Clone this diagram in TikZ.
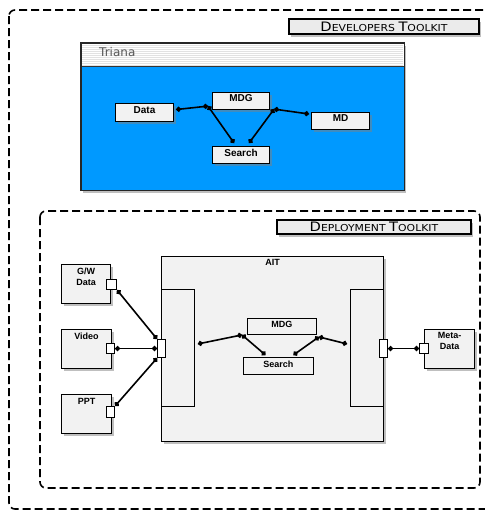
\documentclass[tikz,border=0pt]{standalone}
\usepackage{fontspec}
\setmainfont{Liberation Sans}
\newfontfamily\capfont{DejaVu Sans}
\newfontfamily\winfont{DejaVu Sans}
\usetikzlibrary{arrows.meta,shadows}
\definecolor{boxgray}{HTML}{F2F2F2}
\definecolor{taggray}{HTML}{EBEBEB}
\definecolor{trianablue}{RGB}{0,153,255}
\definecolor{stripegray}{HTML}{E2E2E2}
\newcommand\smcaps[2]{{\fontsize{13}{13}\selectfont #1}{\fontsize{9.6}{9.6}\selectfont #2}}
\newcommand\twolines[2]{\begin{tabular}[t]{@{}c@{}}#1\\#2\end{tabular}}
\begin{document}
\begin{tikzpicture}[x=1pt,y=-1pt,
    shadowed/.style={drop shadow={shadow xshift=2pt,shadow yshift=-2.5pt,opacity=0.5}},
    toolkit/.style={dash pattern=on 8pt off 4pt,line width=1.6pt,rounded corners=6pt},
    tag/.style={draw,line width=2pt,fill=taggray,shadowed,inner sep=0pt,minimum height=15pt,
      font=\capfont,anchor=north west},
    blk/.style={draw,line width=1.1pt,fill=boxgray,inner sep=0pt,anchor=north west,
      font=\bfseries\fontsize{10}{12}\selectfont},
    sblk/.style={blk,font=\bfseries\fontsize{9}{11}\selectfont},
    panel/.style={draw,fill=boxgray,inner sep=0pt,anchor=north west,line width=0.9pt},
    port/.style={draw,fill=white,inner sep=0pt,anchor=north west,line width=1.1pt},
    dotline/.style={line width=1.6pt,{Circle[length=5pt]}-{Circle[length=5pt]}}]
  \useasboundingbox (0,0) rectangle (485,512);

  \draw[toolkit] (9,10) rectangle (492,509);
  \draw[toolkit] (40,211) rectangle (480,488);
  \node[tag,minimum width=190pt] (devtag) at (288,18)
    {\scalebox{1.13}[1]{\smcaps{D}{EVELOPERS} \smcaps{T}{OOLKIT}}};
  \node[tag,minimum width=194pt,minimum height=14pt] (deptag) at (276,219)
    {\scalebox{1.13}[1]{\smcaps{D}{EPLOYMENT} \smcaps{T}{OOLKIT}}};

  \node[draw=black!80,fill=trianablue,shadowed,inner sep=0pt,anchor=north west,
    minimum width=323pt,minimum height=147pt] (triana) at (81,43) {};
  \fill[white] (81,43) rectangle (404,66);
  \foreach \yy in {45,47,...,65}
    \draw[stripegray,line width=0.6pt] (82,\yy) -- (403,\yy);
  \draw[black!80,line width=1pt] (81,66) -- (404,66);
  \draw[black!85,line width=1.2pt] (triana.north west) rectangle (triana.south east);
  \node[anchor=base west,inner sep=0pt,text=black!65,font=\winfont\fontsize{12}{12}\selectfont]
    (title) at (99,56) {Triana};

  \node[blk,shadowed,minimum width=58pt,text height=10pt,text depth=8pt] (data) at (115,103) {Data};
  \node[blk,shadowed,minimum width=57pt,text height=9pt,text depth=8pt] (mdg) at (212,92) {MDG};
  \node[blk,shadowed,minimum width=58pt,text height=9pt,text depth=8pt] (md) at (311,112) {MD};
  \node[blk,shadowed,minimum width=57pt,text height=9.5pt,text depth=7.5pt] (search) at (212,146) {Search};

  \node[sblk,shadowed,line width=1.3pt,minimum width=222pt,text height=9pt,text depth=176pt] (ait)
    at (161,256) {AIT};
  \node[panel,minimum width=33pt,minimum height=117pt] (lpanel) at (161,289) {};
  \node[panel,minimum width=33pt,minimum height=117pt] (rpanel) at (350,289) {};
  \node[sblk,line width=0.9pt,minimum width=69pt,text height=9pt,text depth=7pt] (mdgb) at (247,318) {MDG};
  \node[sblk,line width=0.9pt,minimum width=70pt,text height=10pt,text depth=7pt] (searchb) at (243,357) {Search};

  \node[sblk,shadowed,minimum width=49pt,text height=10pt,text depth=29pt] (gw) at (61,264)
    {\twolines{G/W}{Data}};
  \node[sblk,shadowed,minimum width=50pt,text height=10pt,text depth=29pt] (video) at (61,329) {Video};
  \node[sblk,shadowed,minimum width=50pt,text height=10pt,text depth=29pt] (ppt) at (61,394) {PPT};
  \node[sblk,shadowed,minimum width=50pt,text height=9pt,text depth=30pt] (meta) at (424,329)
    {\twolines{Meta-}{Data}};

  \node[port,minimum width=10pt,minimum height=10pt] (gwport) at (106,279) {};
  \node[port,minimum width=8pt,minimum height=10pt] (vidport) at (106,343) {};
  \node[port,minimum width=8pt,minimum height=11pt] (pptport) at (106,406) {};
  \node[port,minimum width=8pt,minimum height=18pt] (aitin) at (157,339) {};
  \node[port,minimum width=8pt,minimum height=18pt] (aitout) at (379,339) {};
  \node[port,minimum width=9pt,minimum height=10pt] (metaport) at (419,343) {};

  \begin{scope}[dotline]
    \draw ([xshift=2pt,yshift=3pt]data.east) -- ([xshift=-4pt,yshift=4pt]mdg.south west);
    \draw ([xshift=-4pt,yshift=4pt]mdg.south west) -- ([xshift=-7pt,yshift=3pt]search.north);
    \draw ([xshift=4pt,yshift=1pt]mdg.south east) -- ([xshift=-2pt,yshift=-2pt]md.north west);
    \draw ([xshift=4pt,yshift=1pt]mdg.south east) -- ([xshift=8pt,yshift=3pt]search.north);
    \draw (gwport.south east) -- (aitin.north west);
    \draw (vidport.east) -- (aitin.west);
    \draw (pptport.north east) -- (aitin.south west);
    \draw ([xshift=3pt,yshift=4pt]lpanel.east) -- ([xshift=-5pt]mdgb.south west);
    \draw ([xshift=-5pt]mdgb.south west) -- ([xshift=-13pt,yshift=2pt]searchb.north);
    \draw ([xshift=2pt,yshift=-2pt]mdgb.south east) -- ([xshift=15pt,yshift=2pt]searchb.north);
    \draw ([xshift=2pt,yshift=-2pt]mdgb.south east) -- ([xshift=-3pt,yshift=4pt]rpanel.west);
    \draw (aitout.east) -- (metaport.west);
  \end{scope}
\end{tikzpicture}
\end{document}
